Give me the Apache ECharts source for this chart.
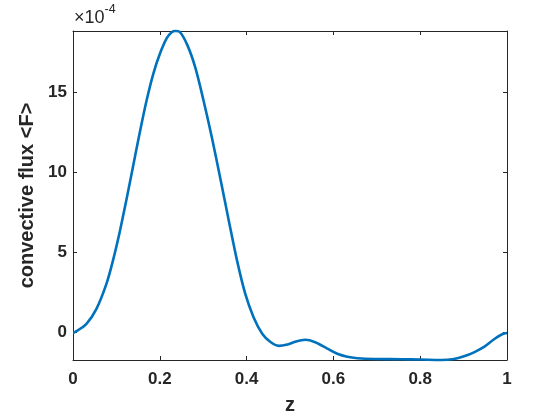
<!DOCTYPE html>
<html>
<head>
<meta charset="utf-8">
<script src="https://cdn.jsdelivr.net/npm/echarts@6/dist/echarts.min.js"></script>
<style>html,body{margin:0;padding:0;background:#fff}#c{width:560px;height:420px}</style>
</head>
<body>
<div id="c"></div>
<script>
// z positions
var zValues = [0, 0.004, 0.031, 0.054, 0.077, 0.092, 0.108, 0.123, 0.139, 0.154, 0.169, 0.185, 0.200, 0.216, 0.228, 0.236, 0.245, 0.263, 0.282, 0.301, 0.320, 0.339, 0.359, 0.378, 0.397, 0.416, 0.436, 0.455, 0.474, 0.494, 0.514, 0.535, 0.558, 0.586, 0.609, 0.632, 0.655, 0.694, 0.755, 0.801, 0.848, 0.878, 0.901, 0.924, 0.948, 0.971, 0.990, 1.0];
// convective flux <F>, in units of 1e-4
var fluxValues = [0, 0.02, 0.55, 1.48, 3.04, 4.49, 6.33, 8.28, 10.46, 12.50, 14.42, 16.15, 17.38, 18.37, 18.76, 18.82, 18.78, 17.97, 16.52, 14.45, 12.17, 9.68, 6.98, 4.49, 2.41, 0.96, -0.07, -0.59, -0.83, -0.74, -0.55, -0.45, -0.60, -1.0, -1.32, -1.51, -1.60, -1.65, -1.66, -1.68, -1.71, -1.65, -1.48, -1.23, -0.88, -0.40, -0.09, -0.03];
var yTicks = [0, 5, 10, 15];
var xLabel = 'z';
var yLabel = 'convective flux <F>';

var data = zValues.map(function (z, i) { return [z, fluxValues[i]]; });
var yMin = -1.71, yMax = 18.82;
var txt = '#262626';
var font = 'Liberation Sans, Arial, sans-serif';

var chart = echarts.init(document.getElementById('c'), null, {renderer: 'canvas'});
chart.setOption({
  animation: false,
  backgroundColor: '#fff',
  grid: {left: 73, right: 53, top: 31, bottom: 59, containLabel: false},
  xAxis: [{
    type: 'value', min: 0, max: 1, interval: 0.2, position: 'bottom',
    name: xLabel, nameLocation: 'middle', nameGap: 35,
    nameTextStyle: {color: txt, fontSize: 20, fontWeight: 'bold', fontFamily: font},
    axisLine: {show: true, onZero: false, lineStyle: {color: txt, width: 1}},
    axisTick: {show: true, inside: true, length: 4, lineStyle: {color: txt}},
    axisLabel: {color: txt, fontSize: 17, fontWeight: 'bold', fontFamily: font, margin: 11},
    splitLine: {show: false}
  }, {
    type: 'value', min: 0, max: 1, interval: 0.2, position: 'top',
    axisLine: {show: true, onZero: false, lineStyle: {color: txt, width: 1}},
    axisTick: {show: true, inside: true, length: 4, lineStyle: {color: txt}},
    axisLabel: {show: false}, splitLine: {show: false}
  }],
  yAxis: [{
    type: 'value', min: yMin, max: yMax, position: 'left',
    name: yLabel, nameLocation: 'middle', nameGap: 28, nameRotate: 90,
    nameTextStyle: {color: txt, fontSize: 20, fontWeight: 'bold', fontFamily: font},
    axisLine: {show: true, onZero: false, lineStyle: {color: txt, width: 1}},
    axisTick: {show: true, inside: true, length: 4, lineStyle: {color: txt}, customValues: yTicks},
    axisLabel: {color: txt, fontSize: 17, fontWeight: 'bold', fontFamily: font, margin: 6, customValues: yTicks},
    splitLine: {show: false}
  }, {
    type: 'value', min: yMin, max: yMax, position: 'right',
    axisLine: {show: true, onZero: false, lineStyle: {color: txt, width: 1}},
    axisTick: {show: true, inside: true, length: 4, lineStyle: {color: txt}, customValues: yTicks},
    axisLabel: {show: false, customValues: yTicks}, splitLine: {show: false}
  }],
  graphic: [{
    type: 'text', left: 74, top: 3,
    style: {
      text: '{a|×10}{b|-4}',
      rich: {
        a: {fontSize: 18, fontFamily: font, fill: txt, verticalAlign: 'bottom', lineHeight: 24},
        b: {fontSize: 12.5, fontFamily: font, fill: txt, verticalAlign: 'top', lineHeight: 24, padding: [0, 0, 9, 0]}
      }
    }
  }],
  series: [{
    type: 'line', xAxisIndex: 0, yAxisIndex: 0, data: data,
    showSymbol: false, smooth: 0.3, clip: false,
    lineStyle: {color: '#0072BD', width: 2.6}
  }]
});
</script>
</body>
</html>
